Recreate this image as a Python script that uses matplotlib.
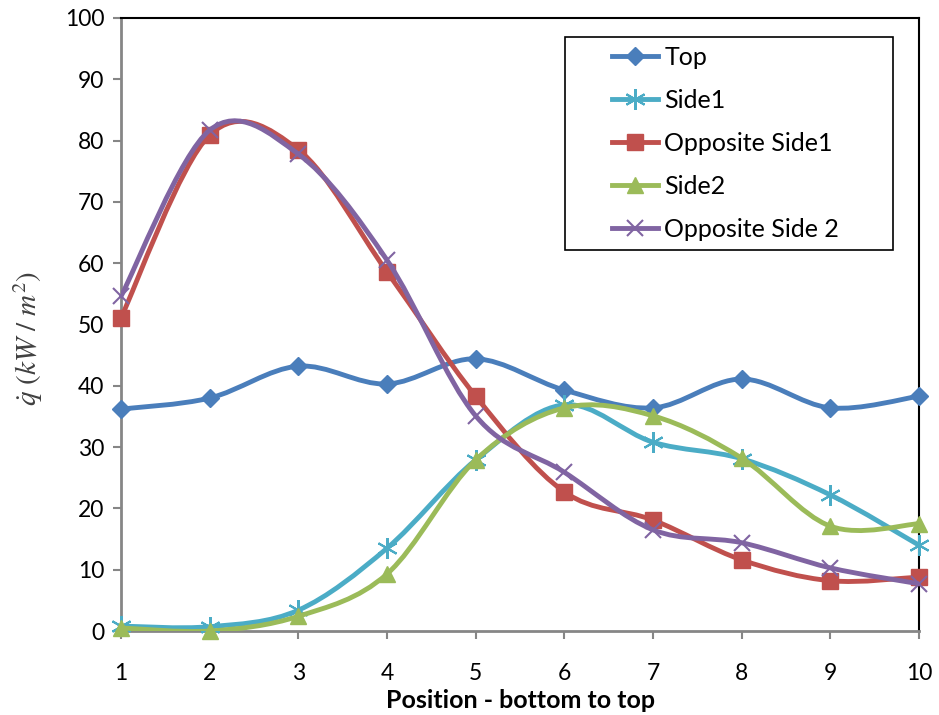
import numpy as np
import matplotlib.pyplot as plt
from matplotlib.path import Path
from matplotlib.patches import PathPatch, Rectangle
from matplotlib.lines import Line2D

plt.rcParams['font.family'] = ['Lato', 'DejaVu Sans']
plt.rcParams['mathtext.fontset'] = 'stix'

positions = [1, 2, 3, 4, 5, 6, 7, 8, 9, 10]
top = [36.2, 38.0, 43.2, 40.3, 44.4, 39.3, 36.4, 41.1, 36.4, 38.3]
side1 = [0.8, 0.7, 3.4, 13.5, 27.9, 36.9, 30.8, 28.1, 22.2, 14.0]
opp_side1 = [51.1, 80.9, 78.5, 58.6, 38.3, 22.7, 18.1, 11.6, 8.2, 8.8]
side2 = [0.5, 0.0, 2.4, 9.3, 27.9, 36.4, 35.1, 28.2, 17.1, 17.5]
opp_side2 = [54.6, 81.7, 77.8, 60.5, 35.1, 25.9, 16.5, 14.4, 10.3, 7.7]

names = ["Top", "Side1", "Opposite Side1", "Side2", "Opposite Side 2"]
colors = ["#4A7EBB", "#4BACC6", "#C0504D", "#9BBB59", "#8064A2"]
markers = [("D", 9, 1), ((6, 2, 0), 15, 1.5), ("s", 11, 1), ("^", 12, 1), ("x", 12, 1.5)]


def smooth_path(x, y):
    # Excel-style smoothed line: Catmull-Rom segments as cubic Beziers
    pts = np.column_stack([x, y]).astype(float)
    ext = np.vstack([pts[0], pts, pts[-1]])
    verts = [pts[0]]
    codes = [Path.MOVETO]
    for i in range(len(pts) - 1):
        p0, p1, p2, p3 = ext[i], ext[i + 1], ext[i + 2], ext[i + 3]
        verts += [p1 + (p2 - p0) / 6, p2 - (p3 - p1) / 6, p2]
        codes += [Path.CURVE4] * 3
    return Path(verts, codes)


fig = plt.figure(figsize=(9.39, 7.15), dpi=100)
ax = fig.add_axes([121 / 939, 1 - 631 / 715, 798 / 939, 613 / 715])

handles = []
for k, (vals, name, c, (m, ms, mew)) in enumerate(zip([top, side1, opp_side1, side2, opp_side2], names, colors, markers)):
    ax.add_patch(PathPatch(smooth_path(positions, vals), facecolor="none", edgecolor=c,
                           lw=3.5, zorder=3 + 2 * k, capstyle="round", joinstyle="round"))
    ax.plot(positions, vals, linestyle="none", marker=m, markersize=ms, color=c,
            markeredgewidth=mew, clip_on=False, zorder=4 + 2 * k)
    handles.append(Line2D([], [], color=c, lw=3.5, marker=m, markersize=ms, markeredgewidth=mew))

ax.set_xlim(1, 10)
ax.set_ylim(0, 100)
ax.set_xticks(positions)
ax.set_yticks(np.arange(0, 101, 10))
ax.tick_params(direction="out", length=6, width=1.5, color="#868686", labelsize=16.5, pad=6)
ax.tick_params(axis="x", pad=17)
for s in ["left", "bottom"]:
    ax.spines[s].set_color("#868686")
    ax.spines[s].set_linewidth(2)
for s in ["top", "right"]:
    ax.spines[s].set_color("black")
    ax.spines[s].set_linewidth(1.5)

ax.set_xlabel("Position - bottom to top", fontsize=18, fontweight="bold", labelpad=4)
fig.text(28 / 939, 1 - 338 / 715, r"$\dot{q}\ (kW\ /\ m^2)$", rotation=90,
         fontsize=21, color="#404040", ha="center", va="center")

ax.add_patch(Rectangle(((565 - 121) / 798, (631 - 250) / 613), 328 / 798, 213 / 613,
                       transform=ax.transAxes, facecolor="white", edgecolor="black",
                       lw=1.2, zorder=20, clip_on=False))
leg = ax.legend(handles, names, loc="upper left", bbox_to_anchor=((612 - 121) / 798, (631 - 46) / 613),
                frameon=False, fontsize=18, handlelength=1.85, handletextpad=0.25,
                labelspacing=0.8, borderpad=0, borderaxespad=0)
leg.set_zorder(21)

fig.savefig("out.png", dpi=100)
